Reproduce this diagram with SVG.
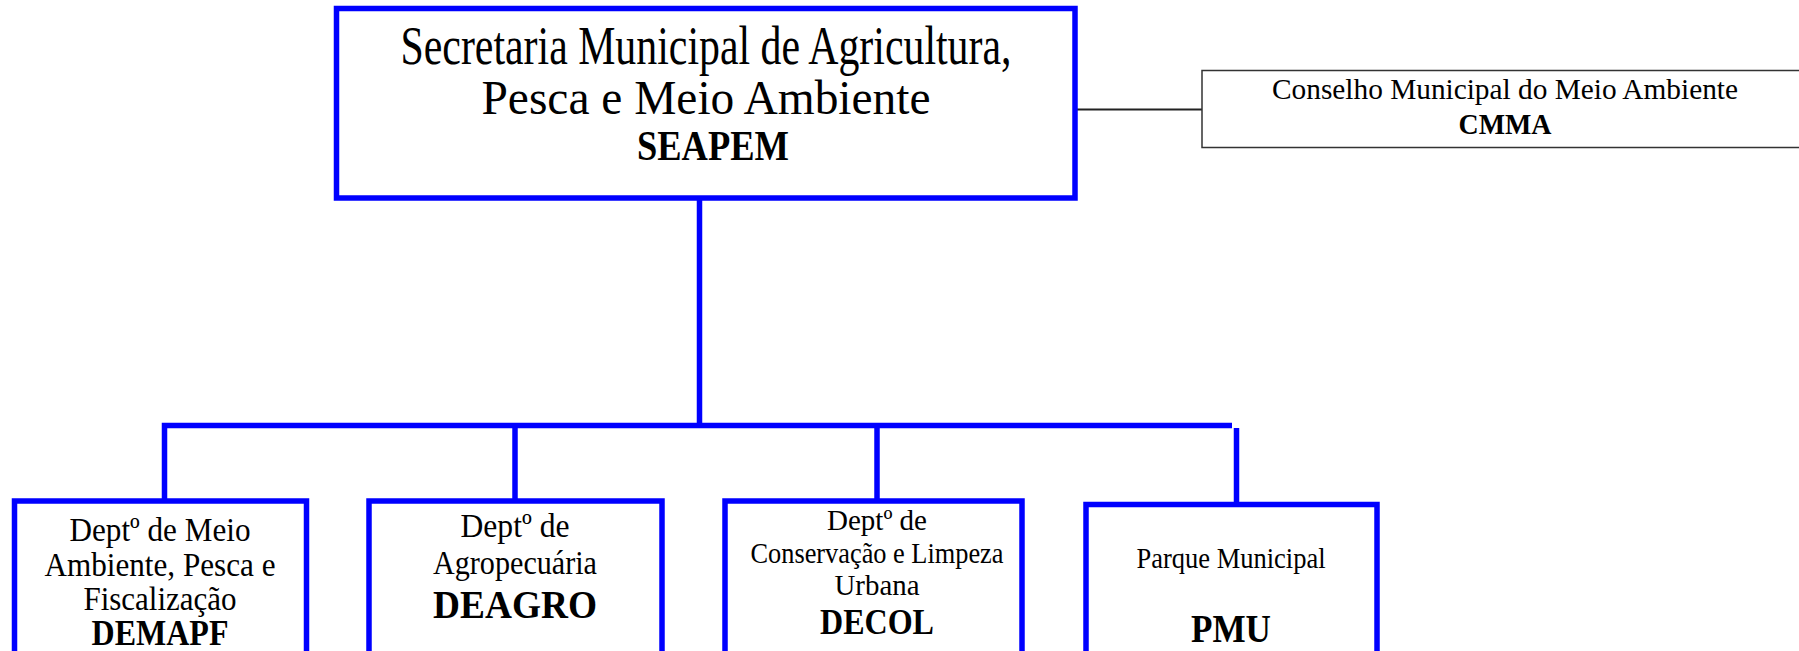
<svg xmlns="http://www.w3.org/2000/svg" width="1799" height="651" viewBox="0 0 1799 651">
<style>
.box{fill:#fff;stroke:#0000ff;stroke-width:5.5}
.thin{fill:#fff;stroke:#333;stroke-width:1.5}
.conn{stroke:#0000ff;stroke-width:5.5;fill:none}
.cthin{stroke:#222;stroke-width:1.8;fill:none}
text{font-family:"Liberation Serif","Times New Roman",serif;fill:#000;text-anchor:middle}
.b{font-weight:bold}
</style>
<rect width="1799" height="651" fill="#fff"/>
<g id="connectors">
<line class="cthin" x1="1075" y1="109.5" x2="1202" y2="109.5"/>
<line class="conn" x1="699.5" y1="198" x2="699.5" y2="425.5"/>
<polyline class="conn" points="164.5,501 164.5,425.5 1232,425.5"/>
<line class="conn" x1="515" y1="425.5" x2="515" y2="501"/>
<line class="conn" x1="877" y1="425.5" x2="877" y2="501"/>
<line class="conn" x1="1236.5" y1="428" x2="1236.5" y2="504"/>
</g>
<g id="seapem">
<rect class="box" x="336.5" y="8.5" width="738.5" height="189.5"/>
<text x="706" y="64" font-size="54" textLength="611" lengthAdjust="spacingAndGlyphs">Secretaria Municipal de Agricultura,</text>
<text x="706" y="114" font-size="48" textLength="449" lengthAdjust="spacingAndGlyphs">Pesca e Meio Ambiente</text>
<text class="b" x="713" y="160" font-size="42" textLength="152" lengthAdjust="spacingAndGlyphs">SEAPEM</text>
</g>
<g id="cmma">
<rect class="thin" x="1202" y="70.5" width="610" height="77"/>
<text x="1505" y="99" font-size="29" textLength="466" lengthAdjust="spacingAndGlyphs">Conselho Municipal do Meio Ambiente</text>
<text class="b" x="1505" y="134" font-size="29" textLength="93" lengthAdjust="spacingAndGlyphs">CMMA</text>
</g>
<g id="demapf">
<rect class="box" x="14.5" y="501" width="292" height="170"/>
<text x="160" y="541" font-size="33" textLength="181" lengthAdjust="spacingAndGlyphs">Deptº de Meio</text>
<text x="160" y="576" font-size="33" textLength="231" lengthAdjust="spacingAndGlyphs">Ambiente, Pesca e</text>
<text x="160" y="610" font-size="33" textLength="153" lengthAdjust="spacingAndGlyphs">Fiscalização</text>
<text class="b" x="160" y="645" font-size="35" textLength="137" lengthAdjust="spacingAndGlyphs">DEMAPF</text>
</g>
<g id="deagro">
<rect class="box" x="369" y="501" width="293" height="170"/>
<text x="515" y="537" font-size="33" textLength="109" lengthAdjust="spacingAndGlyphs">Deptº de</text>
<text x="515" y="574" font-size="33" textLength="164" lengthAdjust="spacingAndGlyphs">Agropecuária</text>
<text class="b" x="515" y="618" font-size="40" textLength="164" lengthAdjust="spacingAndGlyphs">DEAGRO</text>
</g>
<g id="decol">
<rect class="box" x="725" y="501" width="297" height="170"/>
<text x="877" y="530" font-size="30" textLength="100" lengthAdjust="spacingAndGlyphs">Deptº de</text>
<text x="877" y="563" font-size="30" textLength="253" lengthAdjust="spacingAndGlyphs">Conservação e Limpeza</text>
<text x="877" y="595" font-size="30" textLength="85" lengthAdjust="spacingAndGlyphs">Urbana</text>
<text class="b" x="877" y="634" font-size="35" textLength="114" lengthAdjust="spacingAndGlyphs">DECOL</text>
</g>
<g id="pmu">
<rect class="box" x="1086" y="504.5" width="291" height="170"/>
<text x="1231" y="568" font-size="30" textLength="189" lengthAdjust="spacingAndGlyphs">Parque Municipal</text>
<text class="b" x="1231" y="642" font-size="39" textLength="80" lengthAdjust="spacingAndGlyphs">PMU</text>
</g>
</svg>
